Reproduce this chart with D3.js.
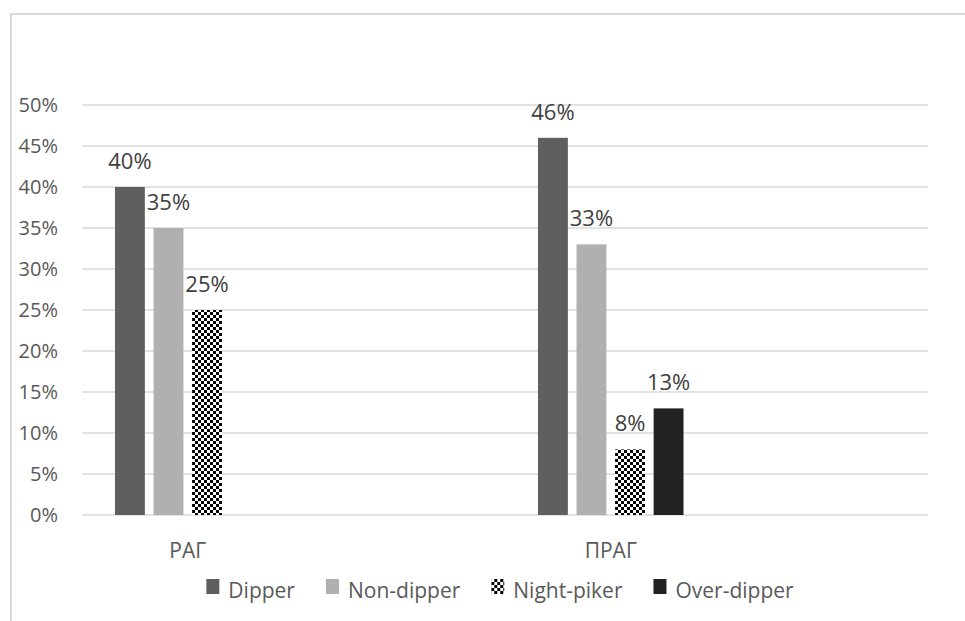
<!DOCTYPE html>
<html>
<head>
<meta charset="utf-8">
<script src="https://cdn.jsdelivr.net/npm/d3@7"></script>
<style>
  body { margin: 0; background: #fff; }
  svg { display: block; font-family: "Open Sans", "Noto Sans", sans-serif; }
  .grid line { stroke: #d9d9d9; stroke-width: 1.5; }
  .tick-label { fill: #595959; font-size: 20px; }
  .cat-label { fill: #595959; font-size: 21px; }
  .value-label { fill: #404040; font-size: 22px; }
  .legend-label { fill: #595959; font-size: 21px; }
</style>
</head>
<body>
<svg id="chart" width="965" height="621"></svg>
<script>
// chart data
const categories = ['РАГ', 'ПРАГ'];
const series = ['Dipper', 'Non-dipper', 'Night-piker', 'Over-dipper'];
const dipper = [40, 46];
const nonDipper = [35, 33];
const nightPiker = [25, 8];
const overDipper = [null, 13];
const yTicks = [0, 5, 10, 15, 20, 25, 30, 35, 40, 45, 50];

const seriesValues = [dipper, nonDipper, nightPiker, overDipper];
const fills = ['#5f5f5f', '#b0b0b0', 'url(#checker)', '#222222'];

const svg = d3.select('#chart');
const plot = { left: 82, right: 928, top: 105, bottom: 515 };

// checkerboard pattern for Night-piker
const defs = svg.append('defs');
const pat = defs.append('pattern')
  .attr('id', 'checker')
  .attr('patternUnits', 'userSpaceOnUse')
  .attr('width', 6)
  .attr('height', 6);
pat.append('rect').attr('width', 6).attr('height', 6).attr('fill', '#fff');
pat.append('rect').attr('width', 3).attr('height', 3).attr('fill', '#000');
pat.append('rect').attr('x', 3).attr('y', 3).attr('width', 3).attr('height', 3).attr('fill', '#000');

// chart border (clipped at right and bottom like the original)
svg.append('rect')
  .attr('x', 11)
  .attr('y', 14)
  .attr('width', 1000)
  .attr('height', 700)
  .attr('fill', 'none')
  .attr('stroke', '#d9d9d9')
  .attr('stroke-width', 2);

const y = d3.scaleLinear().domain([0, 50]).range([plot.bottom, plot.top]);

const x0 = d3.scaleBand()
  .domain(categories)
  .range([plot.left, plot.right]);

const x1 = d3.scaleBand()
  .domain(series)
  .range([-77, 77])
  .paddingInner(0.225)
  .paddingOuter(0.11);

// the bar cluster sits at a quarter of each category band
const groupCenter = c => x0(c) + x0.bandwidth() * 0.25;

// gridlines
svg.append('g')
  .attr('class', 'grid')
  .selectAll('line')
  .data(yTicks)
  .enter().append('line')
  .attr('x1', plot.left)
  .attr('x2', plot.right)
  .attr('y1', d => y(d))
  .attr('y2', d => y(d));

// y tick labels
svg.append('g')
  .selectAll('text')
  .data(yTicks)
  .enter().append('text')
  .attr('class', 'tick-label')
  .attr('x', 58)
  .attr('y', d => y(d) + 7)
  .attr('text-anchor', 'end')
  .text(d => `${d}%`);

// bars
const points = [];
seriesValues.forEach((vals, si) => {
  vals.forEach((v, ci) => {
    if (v !== null) points.push({ s: series[si], si, c: categories[ci], v });
  });
});

svg.append('g')
  .selectAll('rect')
  .data(points)
  .enter().append('rect')
  .attr('x', d => groupCenter(d.c) + x1(d.s))
  .attr('y', d => y(d.v))
  .attr('width', x1.bandwidth())
  .attr('height', d => y(0) - y(d.v))
  .attr('fill', d => fills[d.si]);

// value labels
svg.append('g')
  .selectAll('text')
  .data(points)
  .enter().append('text')
  .attr('class', 'value-label')
  .attr('x', d => groupCenter(d.c) + x1(d.s) + x1.bandwidth() / 2)
  .attr('y', d => y(d.v) - 18)
  .attr('text-anchor', 'middle')
  .text(d => `${d.v}%`);

// category labels
svg.append('g')
  .selectAll('text')
  .data(categories)
  .enter().append('text')
  .attr('class', 'cat-label')
  .attr('x', d => groupCenter(d))
  .attr('y', 558)
  .attr('text-anchor', 'middle')
  .text(d => d);

// legend
const legend = svg.append('g');
const items = legend.selectAll('g')
  .data(series)
  .enter().append('g');

items.append('rect')
  .attr('width', 13)
  .attr('height', 15)
  .attr('y', 579)
  .attr('fill', (d, i) => fills[i]);

items.append('text')
  .attr('class', 'legend-label')
  .attr('x', 22)
  .attr('y', 598)
  .text(d => d);

let cursor = 0;
items.each(function () {
  const g = d3.select(this);
  g.attr('transform', `translate(${cursor},0)`);
  cursor += 22 + g.select('text').node().getComputedTextLength() + 31;
});
const legendWidth = cursor - 31;
legend.attr('transform', `translate(${500 - legendWidth / 2},0)`);
</script>
</body>
</html>
